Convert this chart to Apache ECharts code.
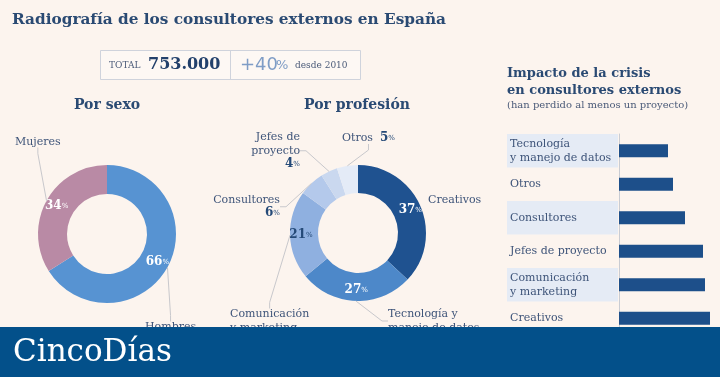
<!DOCTYPE html>
<html>
<head>
<meta charset="utf-8">
<script src="https://cdn.jsdelivr.net/npm/echarts@6/dist/echarts.min.js"></script>
<style>
  html, body { margin: 0; padding: 0; background: #fcf4ee; }
  #main { width: 720px; height: 377px; }
</style>
</head>
<body>
<div id="main"></div>
<script>
// data
var sexCategories = ['Hombres', 'Mujeres'];
var sexValues = [66, 34];
var sexColors = ['#5793d2', '#b98aa5'];

var profCategories = ['Creativos', 'Tecnología y\nmanejo de datos', 'Comunicación\ny marketing', 'Consultores', 'Jefes de\nproyecto', 'Otros'];
var profValues = [37, 27, 21, 6, 4, 5];
var profColors = ['#1f5290', '#4d88c9', '#8fb0e0', '#b4c9eb', '#cad8ef', '#e4ebf7'];

var impactCategories = ['Tecnología\ny manejo de datos', 'Otros', 'Consultores', 'Jefes de proyecto', 'Comunicación\ny marketing', 'Creativos'];
var impactValues = [49, 54, 66, 84, 86, 91];

var SERIF = '"DejaVu Serif", serif';
var NAVY = '#254a78';
var TXT = '#3e5479';
var LINE = '#c8c8cc';

// where the outside labels go (style only)
var sexLabelPos = [
  { x: 145, y: 320, align: 'left' },
  { x: 15, y: 135, align: 'left' }
];
var profLabelPos = [
  { x: 428, y: 193, align: 'left' },
  { x: 388, y: 307, align: 'left' },
  { x: 230, y: 307, align: 'left' },
  { x: 280, y: 193, align: 'right' },
  { x: 300, y: 130, align: 'right' },
  { x: 342, y: 131, align: 'left' }
];

var pctRich = {
  w: { color: '#fff', fontFamily: SERIF, fontWeight: 'bold', fontSize: 12 },
  ws: { color: '#fff', fontFamily: SERIF, fontSize: 7 },
  d: { color: NAVY, fontFamily: SERIF, fontWeight: 'bold', fontSize: 12 },
  ds: { color: NAVY, fontFamily: SERIF, fontSize: 7 },
  n: { color: TXT, fontFamily: SERIF, fontSize: 11, lineHeight: 14 }
};

function insideLabel(darkIdx) {
  return function (p) {
    if (p.value < 15) return '';
    var dark = darkIdx.indexOf(p.dataIndex) >= 0;
    return dark ? '{d|' + p.value + '}{ds|%}' : '{w|' + p.value + '}{ws|%}';
  };
}

function ring(values, names, colors) {
  return values.map(function (v, i) {
    return { value: v, name: names[i], itemStyle: { color: colors[i] } };
  });
}

function outerSeries(center, radius, values, names, pos, withPct, noLine) {
  return {
    type: 'pie', center: center, radius: radius, startAngle: 90, silent: true,
    z: 3,
    data: values.map(function (v, i) {
      return {
        value: v, name: names[i], itemStyle: { color: 'rgba(0,0,0,0)' },
        labelLine: { show: noLine.indexOf(i) < 0 }
      };
    }),
    label: {
      position: 'outside',
      overflow: 'none',
      formatter: function (p) {
        var lines = p.name.split('\n').map(function (s) { return '{n|' + s + '}'; });
        if (withPct.indexOf(p.dataIndex) >= 0) {
          if (p.dataIndex === 5) return lines.join('') + '{n|  }{d|' + p.value + '}{ds|%}';
          return lines.join('\n') + '\n{d|' + p.value + '}{ds|%}';
        }
        return lines.join('\n');
      },
      rich: pctRich
    },
    labelLine: { show: true, length: 6, length2: 6, lineStyle: { color: LINE, width: 1 } },
    labelLayout: function (p) {
      var q = pos[p.dataIndex];
      return { x: q.x, y: q.y, align: q.align, verticalAlign: 'top' };
    }
  };
}

var chart = echarts.init(document.getElementById('main'));
chart.setOption({
  backgroundColor: '#fcf4ee',
  animation: false,
  grid: [
    { left: 619, width: 100, top: 134, height: 201 },
    { left: 507, width: 111, top: 134, height: 201 }
  ],
  xAxis: [
    { type: 'value', gridIndex: 0, min: 0, max: 100, show: false },
    { type: 'value', gridIndex: 1, min: 0, max: 100, show: false }
  ],
  yAxis: [
    {
      type: 'category', gridIndex: 0, data: impactCategories, inverse: true,
      axisLine: { lineStyle: { color: '#c9ccd3' } },
      axisTick: { show: false },
      axisLabel: { align: 'left', margin: 109, color: TXT, fontFamily: SERIF, fontSize: 11, lineHeight: 14 }
    },
    {
      type: 'category', gridIndex: 1, data: impactCategories, inverse: true,
      axisLine: { show: false }, axisTick: { show: false }, axisLabel: { show: false },
      splitArea: { show: true, areaStyle: { color: ['#e5ebf5', 'rgba(0,0,0,0)'] } }
    }
  ],
  series: [
    {
      type: 'bar', xAxisIndex: 0, yAxisIndex: 0, data: impactValues,
      barWidth: 13, itemStyle: { color: '#1d4f8a' }, silent: true
    },
    {
      type: 'pie', center: [107, 234], radius: [40, 69], startAngle: 90, silent: true,
      data: ring(sexValues, sexCategories, sexColors),
      label: { position: 'inside', formatter: insideLabel([]), rich: pctRich }
    },
    outerSeries([107, 234], [40, 69], sexValues, sexCategories, sexLabelPos, [], []),
    {
      type: 'pie', center: [358, 233], radius: [40, 68], startAngle: 90, silent: true,
      data: ring(profValues, profCategories, profColors),
      label: { position: 'inside', formatter: insideLabel([2]), rich: pctRich }
    },
    outerSeries([358, 233], [40, 68], profValues, profCategories, profLabelPos, [3, 4, 5], [0])
  ],
  graphic: [
    { type: 'text', left: 12, top: 13, style: { text: 'Radiografía de los consultores externos en España', fill: '#2a4a73', font: 'bold 15.3px ' + SERIF } },
    { type: 'rect', shape: { x: 100.5, y: 50.5, width: 260, height: 29 }, style: { fill: '#fdf8f4', stroke: '#cfd3dc', lineWidth: 1 } },
    { type: 'line', shape: { x1: 230.5, y1: 50.5, x2: 230.5, y2: 79.5 }, style: { stroke: '#cfd3dc', lineWidth: 1 } },
    { type: 'text', x: 109, y: 66, style: { text: 'TOTAL', fill: '#4a5a78', font: '9px ' + SERIF, verticalAlign: 'middle' } },
    { type: 'text', x: 148, y: 65, style: { text: '753.000', fill: '#22406b', font: 'bold 16px ' + SERIF, verticalAlign: 'middle' } },
    { type: 'text', x: 240, y: 65, style: { text: '+40', fill: '#7f9dc6', font: '18px "DejaVu Sans", sans-serif', verticalAlign: 'middle' } },
    { type: 'text', x: 276, y: 66, style: { text: '%', fill: '#7f9dc6', font: '13px "DejaVu Sans", sans-serif', verticalAlign: 'middle' } },
    { type: 'text', x: 295, y: 66, style: { text: 'desde 2010', fill: '#4a5a78', font: '9px ' + SERIF, verticalAlign: 'middle' } },
    { type: 'text', x: 107, y: 105, style: { text: 'Por sexo', fill: '#2a4a73', font: 'bold 14px ' + SERIF, align: 'center', verticalAlign: 'middle' } },
    { type: 'text', x: 357, y: 105, style: { text: 'Por profesión', fill: '#2a4a73', font: 'bold 14px ' + SERIF, align: 'center', verticalAlign: 'middle' } },
    { type: 'text', x: 507, y: 65, style: { text: 'Impacto de la crisis\nen consultores externos', fill: '#2a4a73', font: 'bold 13px ' + SERIF, lineHeight: 17 } },
    { type: 'text', x: 507, y: 100, style: { text: '(han perdido al menos un proyecto)', fill: '#4a5a78', font: '10px ' + SERIF } },
    { type: 'rect', z: 100, shape: { x: 0, y: 327, width: 720, height: 50 }, style: { fill: '#03508a' } },
    { type: 'text', z: 101, x: 13, y: 353, style: { text: 'CincoDías', fill: '#ffffff', font: '31px ' + SERIF, verticalAlign: 'middle' } }
  ]
});
</script>
</body>
</html>
